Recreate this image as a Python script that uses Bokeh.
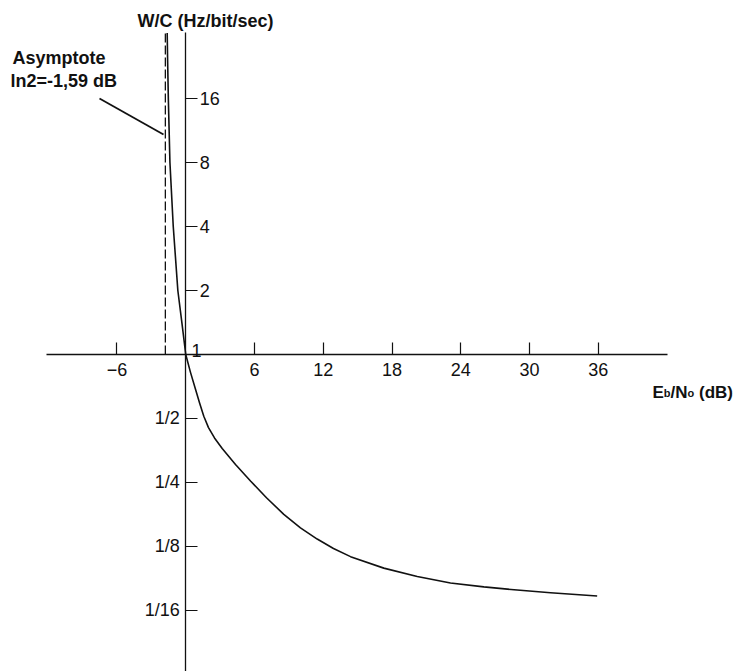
from bokeh.plotting import figure
from bokeh.models import (Range1d, LinearAxis, FixedTicker, BasicTickFormatter,
                          Label, ColumnDataSource)
from bokeh.core.properties import value
from bokeh.embed import file_html
from bokeh.resources import INLINE

# ---------------- data ----------------
eb_no_db = [-1.62, -1.58, -1.52, -1.38, -1.09, -0.69, -0.33, 0.0,
            0.414, 0.851, 1.200, 1.575, 1.985, 2.509, 3.181, 4.341, 5.650,
            7.046, 8.556, 10.01, 11.47, 12.89, 14.38, 17.28, 20.20, 23.10,
            26.01, 28.92, 31.83, 35.90]
w_over_c = [32.5, 23.8, 16.0, 8.0, 4.0, 2.0, 1.4, 1.0,
            0.824, 0.687, 0.593, 0.512, 0.453, 0.405, 0.361, 0.304, 0.254,
            0.212, 0.177, 0.153, 0.1355, 0.1223, 0.112, 0.0989, 0.0904,
            0.0842, 0.0807, 0.0780, 0.0758, 0.0731]

x_ticks = [-6, 6, 12, 18, 24, 30, 36]
y_ticks_upper = [2, 4, 8, 16]
y_ticks_lower = [1 / 2, 1 / 4, 1 / 8, 1 / 16]
y_tick_labels_lower = ["1/2", "1/4", "1/8", "1/16"]

asymptote_db = [-1.78]        # dashed asymptote (labelled ln2 = -1,59 dB)
asymptote_wc_from = [1.0]
asymptote_wc_to = [32.4]

# ---------------- layout helpers (page pixels -> data) ----------------
X0_PAGE = 185.25      # page x of 0 dB
PX_PER_DB = 11.46
ONE_PAGE = 354.0      # page y of W/C = 1
PX_PER_OCT = 64.0
ORIGIN = 0            # canvas origin on the page
W, H = 736, 671


def dx(px):
    return (px - X0_PAGE) / PX_PER_DB


def dy(py):
    return 2.0 ** ((ONE_PAGE - py) / PX_PER_OCT)


x_start, x_end = dx(ORIGIN), dx(ORIGIN + W)
y_start, y_end = dy(ORIGIN + H), dy(ORIGIN)

p = figure(width=W, height=H, x_range=Range1d(x_start, x_end),
           y_range=Range1d(y_start, y_end), y_axis_type="log",
           x_axis_location=None, y_axis_location=None,
           toolbar_location=None, output_backend="svg", min_border=0,
           outline_line_color=None, background_fill_color="white",
           border_fill_color="white")
p.grid.visible = False

TICK_FONT = "Liberation Sans"
TITLE_FONT = "Liberation Sans"
INK = "#111111"

# x axis crossing at W/C = 1
xaxis = LinearAxis(fixed_location=1.0, ticker=FixedTicker(ticks=x_ticks),
                   formatter=BasicTickFormatter(),
                   bounds=(dx(46), dx(667)),
                   major_tick_in=12, major_tick_out=0,
                   minor_tick_in=0, minor_tick_out=0,
                   major_label_standoff=8,
                   major_label_text_font=TICK_FONT,
                   major_label_text_font_size="18px",
                   major_label_text_color=INK,
                   axis_line_color=INK, axis_line_width=1.3,
                   major_tick_line_color=INK, major_tick_line_width=1.2)
p.add_layout(xaxis, "below")

# y axis (upper part, labels to the right) crossing at 0 dB
yaxis_up = LinearAxis(fixed_location=0.0, ticker=FixedTicker(ticks=y_ticks_upper),
                      formatter=BasicTickFormatter(),
                      bounds=(y_start, dy(32)),
                      major_tick_out=12, major_tick_in=0,
                      minor_tick_in=0, minor_tick_out=0,
                      major_label_standoff=2,
                      major_label_text_font=TICK_FONT,
                      major_label_text_font_size="18px",
                      major_label_text_color=INK,
                      axis_line_color=INK, axis_line_width=1.3,
                      major_tick_line_color=INK, major_tick_line_width=1.2)
p.add_layout(yaxis_up, "right")

# lower ticks (pointing right), labels drawn separately above the ticks
yaxis_low = LinearAxis(fixed_location=0.0, ticker=FixedTicker(ticks=y_ticks_lower),
                       major_tick_in=12, major_tick_out=0,
                       minor_tick_in=0, minor_tick_out=0,
                       major_label_text_color=None,
                       major_label_text_font_size="1px",
                       axis_line_color=None,
                       major_tick_line_color=INK, major_tick_line_width=1.2)
p.add_layout(yaxis_low, "left")

low_src = ColumnDataSource(dict(x=[0.0] * len(y_ticks_lower), y=y_ticks_lower,
                                t=y_tick_labels_lower))
p.text(x="x", y="y", text="t", source=low_src, text_font=value(TICK_FONT),
       text_font_size=value("18px"), text_align="right",
       text_baseline="alphabetic", x_offset=-6, y_offset=-1, text_color=INK)

# curve
p.line(eb_no_db, w_over_c, line_color=INK, line_width=1.6,
       line_join="round")

# asymptote
p.segment(x0=asymptote_db, y0=asymptote_wc_from, x1=asymptote_db,
          y1=asymptote_wc_to, line_color=INK, line_width=1.3, line_dash="9 3")

# pointer line from the annotation to the asymptote
p.segment(x0=[dx(99)], y0=[dy(98)], x1=[dx(163)], y1=[dy(134)],
          line_color=INK, line_width=1.8)


# texts
def lab(txt, px, py, size="18px", bold=True, font=TITLE_FONT):
    p.add_layout(Label(x=dx(px), y=dy(py), text=txt, text_font=font,
                       text_font_size=size,
                       text_font_style="bold" if bold else "normal",
                       text_color=INK, text_align="left",
                       text_baseline="alphabetic"))


lab("W/C (Hz/bit/sec)", 137, 20)
lab("Asymptote", 12, 57)
lab("ln2=-1,59 dB", 10, 80)
lab("1", 191, 350, bold=False, font=TICK_FONT)

# x axis title E_b/N_o (dB) with small subscripts
x0 = 652
base = 392
lab("E", x0, base, size="17px"); x0 += 0.667 * 17
lab("b", x0, base, size="11px"); x0 += 0.611 * 11
lab("/N", x0, base, size="17px"); x0 += 1.0 * 17
lab("o", x0, base, size="11px"); x0 += 0.611 * 11 + 0.278 * 17
lab("(dB)", x0, base, size="17px")

open("out.html", "w").write(file_html(p, INLINE))
